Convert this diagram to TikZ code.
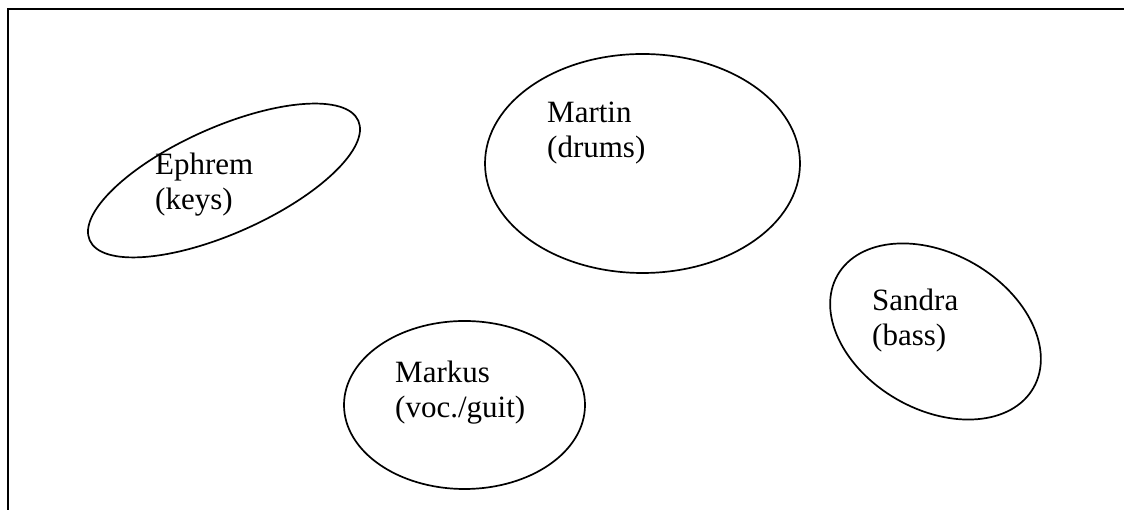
\documentclass[tikz,border=0pt]{standalone}
\usepackage{fontspec}
\setmainfont{Liberation Serif}
\usetikzlibrary{shapes.geometric}

\begin{document}
\begin{tikzpicture}[x=1pt,y=1pt,
  member/.style={draw=black, ellipse, line width=1.7pt, inner sep=0pt},
  who/.style={align=left, anchor=base west, inner sep=0pt, font=\fontsize{31}{35}\selectfont}]
\useasboundingbox (0,0) rectangle (1124,510);
% frame, only top and left edge show
\coordinate (corner) at (8,500.5);
\coordinate (topend) at (1124,500.5);
\coordinate (leftend) at (8,0);
\draw [black, line width=2pt] (leftend) -- (corner) -- (topend);
% band members
\node [member, minimum width=294pt, minimum height=106pt, rotate=24] (ephrem) at (224,329.5) {};
\node [who] (ephremtext) at (155,300) {Ephrem\\(keys)};
\node [member, minimum width=315pt, minimum height=219pt] (martin) at (642.5,346.5) {};
\node [who] (martintext) at (547,352) {Martin\\(drums)};
\node [member, minimum width=226pt, minimum height=156pt, rotate=-30] (sandra) at (935.5,178.5) {};
\node [who] (sandratext) at (872,164) {Sandra\\(bass)};
\node [member, minimum width=241pt, minimum height=168pt] (markus) at (464.5,105) {};
\node [who] (markustext) at (395,92) {Markus\\(voc./guit)};
\end{tikzpicture}
\end{document}
